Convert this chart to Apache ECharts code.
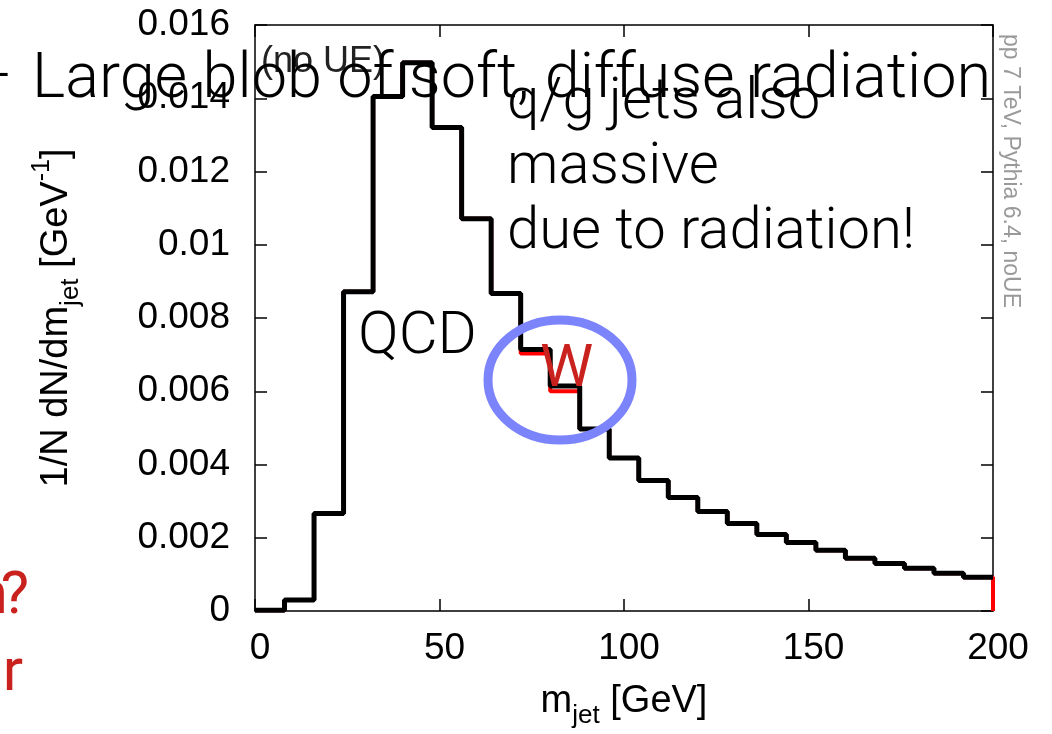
<!DOCTYPE html>
<html>
<head>
<meta charset="utf-8">
<script src="https://cdn.jsdelivr.net/npm/echarts@6/dist/echarts.min.js"></script>
<style>
  html, body { margin: 0; padding: 0; background: #fff; }
  #chart { width: 1052px; height: 734px; }
</style>
</head>
<body>
<div id="chart"></div>
<script>
// bin edges of the jet mass histogram (GeV)
var binEdges = [0, 8, 16, 24, 32, 40, 48, 56, 64, 72, 80, 88, 96, 104,
                112, 120, 128, 136, 144, 152, 160, 168, 176, 184, 192, 200];
// QCD jets, 1/N dN/dm per bin
var qcdValues = [0.00002, 0.00030, 0.00266, 0.00872, 0.01405, 0.01497, 0.01320,
                 0.01071, 0.00867, 0.00714, 0.00614, 0.00497, 0.00418, 0.00356,
                 0.00310, 0.00272, 0.00239, 0.00209, 0.00187, 0.00166, 0.00144,
                 0.00130, 0.00117, 0.00103, 0.00092];
// W jets (mostly hidden under the QCD line)
var wValues = [0.00002, 0.00030, 0.00266, 0.00872, 0.01405, 0.01497, 0.01320,
               0.01071, 0.00867, 0.00703, 0.00600, 0.00497, 0.00418, 0.00356,
               0.00310, 0.00272, 0.00239, 0.00209, 0.00187, 0.00166, 0.00144,
               0.00130, 0.00117, 0.00103, 0.00092];
var xTicks = [0, 50, 100, 150, 200];
var yTicks = [0, 0.002, 0.004, 0.006, 0.008, 0.01, 0.012, 0.014, 0.016];

// step points: left edge of each bin + closing point at the last edge
function stepData(values, closeToZero) {
    var pts = [];
    for (var i = 0; i < binEdges.length; i++) {
        var v = i < values.length ? values[i] : values[values.length - 1];
        pts.push([binEdges[i], v]);
    }
    if (closeToZero) pts.push([binEdges[binEdges.length - 1], 0]);
    return pts;
}

var plotFont = "'Liberation Sans', Arial, sans-serif";
var slideFont = "Roboto, 'Noto Sans', sans-serif";
var slideRed = "#c9211e";

var nameRich = {
    t: { fontFamily: plotFont, fontSize: 38, color: "#000", lineHeight: 54 },
    sub: { fontFamily: plotFont, fontSize: 26, color: "#000", lineHeight: 26, verticalAlign: "bottom" },
    sup: { fontFamily: plotFont, fontSize: 25, color: "#000", lineHeight: 25, verticalAlign: "top" }
};

var axisLine = { show: true, onZero: false, lineStyle: { color: "#000", width: 1.5 } };
var tickStyle = { show: true, inside: true, length: 12, lineStyle: { color: "#000", width: 1.5 } };

var chart = echarts.init(document.getElementById("chart"), null, { renderer: "canvas" });

chart.setOption({
    animation: false,
    backgroundColor: "#fff",
    grid: { left: 255, right: 59, top: 25, bottom: 120, containLabel: false },
    xAxis: [
        {
            type: "value",
            min: xTicks[0],
            max: xTicks[xTicks.length - 1],
            interval: xTicks[1] - xTicks[0],
            axisLine: axisLine,
            axisTick: tickStyle,
            splitLine: { show: false },
            axisLabel: {
                fontFamily: plotFont, fontSize: 37, color: "#000",
                margin: 19, padding: [0, 0, 0, 10]
            },
            name: "{t|m}{sub|jet}{t| [GeV]}",
            nameLocation: "middle",
            nameGap: 64,
            nameTextStyle: { rich: nameRich }
        },
        {
            type: "value",
            position: "top",
            min: xTicks[0],
            max: xTicks[xTicks.length - 1],
            interval: xTicks[1] - xTicks[0],
            axisLine: axisLine,
            axisTick: tickStyle,
            axisLabel: { show: false },
            splitLine: { show: false }
        }
    ],
    yAxis: [
        {
            type: "value",
            min: yTicks[0],
            max: yTicks[yTicks.length - 1],
            interval: yTicks[1] - yTicks[0],
            axisLine: axisLine,
            axisTick: tickStyle,
            splitLine: { show: false },
            axisLabel: { fontFamily: plotFont, fontSize: 37, color: "#000", margin: 25 },
            name: "{t|1/N dN/dm}{sub|jet}{t| [GeV}{sup|-1}{t|]}",
            nameLocation: "middle",
            nameGap: 171,
            nameTextStyle: { rich: nameRich }
        },
        {
            type: "value",
            position: "right",
            min: yTicks[0],
            max: yTicks[yTicks.length - 1],
            interval: yTicks[1] - yTicks[0],
            axisLine: axisLine,
            axisTick: tickStyle,
            axisLabel: { show: false },
            splitLine: { show: false }
        }
    ],
    series: [
        {
            name: "W",
            type: "line",
            step: "end",
            data: stepData(wValues, true),
            showSymbol: false,
            lineStyle: { color: "#ff0000", width: 4 },
            z: 2
        },
        {
            name: "QCD",
            type: "line",
            step: "end",
            data: stepData(qcdValues, false),
            showSymbol: false,
            lineStyle: { color: "#000", width: 5 },
            z: 3
        }
    ],
    graphic: [
        {
            type: "text", x: 261, y: 62, z: 50,
            style: { text: "(no UE)", fontFamily: plotFont, fontSize: 36, fill: "#222",
                     align: "left", verticalAlign: "middle" }
        },
        {
            type: "text", x: 1010, y: 171, z: 50, rotation: -Math.PI / 2,
            style: { text: "pp 7 TeV, Pythia 6.4, noUE", fontFamily: plotFont, fontSize: 23,
                     fill: "#999", align: "center", verticalAlign: "middle" }
        },
        {
            type: "ellipse", z: 60,
            shape: { cx: 560, cy: 380, rx: 72, ry: 60 },
            style: { fill: "none", stroke: "#7c84fb", lineWidth: 9 }
        },
        {
            type: "text", x: 13, y: 81, z: 100,
            style: { text: "–", fontFamily: slideFont, fontWeight: 300, fontSize: 62,
                     fill: "#000", align: "right", verticalAlign: "middle" }
        },
        {
            type: "text", x: 32, y: 81, z: 100,
            style: { text: "Large blob of soft, diffuse radiation", fontFamily: slideFont,
                     fontWeight: 300, fontSize: 63, fill: "#000",
                     align: "left", verticalAlign: "middle" }
        },
        {
            type: "text", x: 507, y: 168, z: 100,
            style: { text: "q/g jets also\nmassive\ndue to radiation!", fontFamily: slideFont,
                     fontWeight: 300, fontSize: 58, lineHeight: 65, fill: "#000",
                     align: "left", verticalAlign: "middle" }
        },
        {
            type: "text", x: 358, y: 338, z: 100,
            style: { text: "QCD", fontFamily: slideFont, fontWeight: 300, fontSize: 60,
                     fill: "#000", align: "left", verticalAlign: "middle" }
        },
        {
            type: "text", x: 540, y: 371, z: 100,
            style: { text: "W", fontFamily: slideFont, fontSize: 60,
                     fill: slideRed, align: "left", verticalAlign: "middle" }
        },
        {
            type: "text", x: 8, y: 598, z: 100,
            style: { text: "n", fontFamily: slideFont, fontSize: 60,
                     fill: slideRed, align: "right", verticalAlign: "middle" }
        },
        {
            type: "text", x: 29, y: 598, z: 100,
            style: { text: "?", fontFamily: slideFont, fontSize: 60,
                     fill: slideRed, align: "right", verticalAlign: "middle" }
        },
        {
            type: "text", x: 23, y: 675, z: 100,
            style: { text: "r", fontFamily: slideFont, fontSize: 60,
                     fill: slideRed, align: "right", verticalAlign: "middle" }
        }
    ]
});

window.addEventListener("resize", function () {
    chart.resize();
});
</script>
</body>
</html>
